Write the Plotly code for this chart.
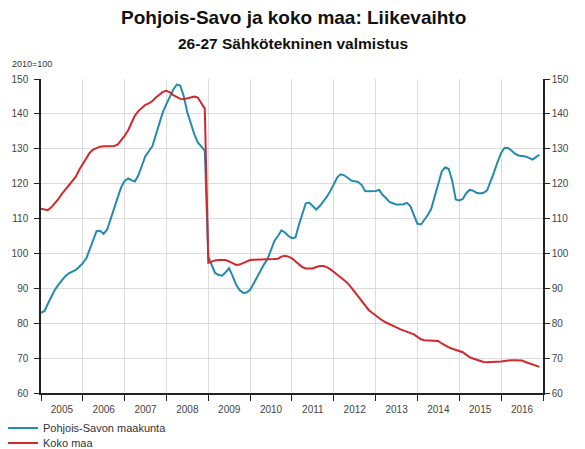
import plotly.graph_objects as go
import pandas as pd

months = pd.date_range("2005-01-01", "2016-12-01", freq="MS").strftime("%Y-%m-%d").tolist()

pohjois_savo = [
    83.0, 83.5, 85.5, 87.6, 89.5, 91.0, 92.4, 93.5, 94.3, 94.9, 95.3, 96.2,
    97.2, 98.6, 101.2, 104.0, 106.4, 106.5, 105.6, 106.8, 109.8, 112.8, 116.2, 118.9,
    120.8, 121.5, 121.0, 120.6, 122.4, 125.4, 127.9, 129.3, 130.8, 134.0, 137.5, 140.5,
    142.8, 145.1, 147.0, 148.4, 148.1, 145.0, 140.5, 137.3, 134.1, 131.8, 130.7, 129.5,
    99.0, 96.6, 94.4, 93.8, 93.6, 94.6, 95.8, 93.5, 91.0, 89.5, 88.7, 88.8,
    89.6, 91.4, 93.2, 95.2, 96.8, 98.3, 101.2, 103.6, 105.0, 106.6, 106.0, 105.0,
    104.4, 104.6, 108.0, 111.5, 114.3, 114.6, 113.5, 112.6, 113.6, 114.8, 116.2, 117.8,
    119.8, 121.8, 122.7, 122.4, 121.7, 120.9, 120.7, 120.5, 119.6, 117.9, 117.8, 117.8,
    117.9, 118.2, 116.8, 115.9, 114.8, 114.4, 114.0, 114.0, 114.1, 114.5, 113.5, 111.0,
    108.5, 108.3, 109.5, 111.0, 112.8, 116.5, 120.5, 123.5, 124.7, 124.2, 120.8, 115.5,
    115.2, 115.6, 117.2, 118.2, 118.0, 117.4, 117.2, 117.4, 118.1, 120.5, 123.3, 126.2,
    128.8, 130.3, 130.2, 129.5, 128.6, 128.1, 128.0, 127.8, 127.4, 126.9, 127.6, 128.3,
]

koko_maa = [
    112.8, 112.7, 112.4, 113.2, 114.3, 115.6, 117.0, 118.3, 119.6, 120.6, 122.0, 124.0,
    125.8, 127.3, 128.8, 129.8, 130.3, 130.6, 130.7, 130.7, 130.7, 130.8, 131.2, 132.3,
    133.7, 135.3, 137.2, 139.5, 140.8, 141.8, 142.6, 143.0, 143.7, 144.7, 145.6, 146.3,
    146.6, 146.2, 145.4, 144.8, 144.3, 144.2, 144.5, 144.8, 145.0, 144.7, 143.0, 141.5,
    97.3, 97.7, 98.0, 98.1, 98.2, 98.1, 97.7, 97.2, 96.7, 96.8, 97.3, 97.8,
    98.1, 98.2, 98.2, 98.2, 98.3, 98.3, 98.4, 98.4, 98.5, 99.1, 99.3, 99.1,
    98.6, 97.8, 96.9, 96.1, 95.7, 95.6, 95.7, 96.1, 96.4, 96.4, 96.1, 95.5,
    94.6, 93.9, 93.2, 92.3, 91.5, 90.3, 89.0, 87.5, 86.1, 84.8, 83.8, 83.0,
    82.2, 81.4, 80.8, 80.2, 79.8, 79.3, 78.8, 78.3, 77.9, 77.6, 77.3, 76.8,
    76.1, 75.4, 75.1, 75.1, 75.1, 75.1, 74.9, 74.2, 73.6, 73.1, 72.7, 72.4,
    72.1, 71.7, 71.0, 70.3, 69.9, 69.5, 69.1, 68.9, 68.8, 68.8, 68.8, 68.9,
    69.0, 69.2, 69.4, 69.4, 69.4, 69.4, 69.3, 68.9, 68.5, 68.1, 67.8, 67.5,
]

y_ticks = [60, 70, 80, 90, 100, 110, 120, 130, 140, 150]

BLUE = "#238bad"
RED = "#d1282c"
FONT = "Liberation Sans, Arial, sans-serif"

# page body has an 8px default margin; compensate so the plot lands where the reference has it
OFF = 8
W, H = 585, 449
ML, MT = 41 - OFF, 79 - OFF
plot_w, plot_h = 502, 314
MR = W - ML - plot_w
MB = H - MT - plot_h


def py(screen_y):
    return (H - MB - (screen_y - OFF)) / plot_h


def px(screen_x):
    return (screen_x - OFF - ML) / plot_w


fig = go.Figure()
fig.add_trace(go.Scatter(x=months, y=pohjois_savo, mode="lines", name="Pohjois-Savon maakunta",
                         line=dict(color=BLUE, width=2), legend="legend"))
fig.add_trace(go.Scatter(x=months, y=koko_maa, mode="lines", name="Koko maa",
                         line=dict(color=RED, width=2), legend="legend2"))
# invisible trace to draw the right-hand axis
fig.add_trace(go.Scatter(x=months, y=koko_maa, mode="lines", yaxis="y2", showlegend=False,
                         hoverinfo="skip", line=dict(color="rgba(0,0,0,0)", width=0)))

axis_font = dict(family=FONT, size=10, color="#444444")
legend_font = dict(family=FONT, size=11, color="#333333")

fig.update_layout(
    width=W, height=H,
    margin=dict(l=ML, r=MR, t=MT, b=MB, autoexpand=False),
    paper_bgcolor="white", plot_bgcolor="white",
    font=dict(family=FONT, size=10, color="#333333"),
    showlegend=True,
    legend=dict(x=px(3), y=py(428), xanchor="left", yanchor="middle",
                font=legend_font, itemwidth=30, bgcolor="rgba(0,0,0,0)"),
    legend2=dict(x=px(3), y=py(443), xanchor="left", yanchor="middle",
                 font=legend_font, itemwidth=30, bgcolor="rgba(0,0,0,0)"),
    xaxis=dict(type="date", range=["2005-01-01", "2017-01-01"],
               dtick="M12", tick0="2005-01-01", tickformat="%Y", ticklabelmode="period",
               showgrid=True, gridcolor="#dcdcdc", gridwidth=1,
               ticks="outside", ticklen=6, tickcolor="#222222", tickwidth=1,
               showline=True, linecolor="#222222", linewidth=1.5,
               tickfont=axis_font, zeroline=False, automargin=False),
    yaxis=dict(range=[60, 150], tickvals=y_ticks, showgrid=True, gridcolor="#dcdcdc", gridwidth=1,
               ticks="outside", ticklen=5, tickcolor="#222222", tickwidth=1,
               showline=True, linecolor="#222222", linewidth=1.5, ticklabelstandoff=4,
               tickfont=axis_font, zeroline=False, automargin=False),
    yaxis2=dict(range=[60, 150], tickvals=y_ticks, overlaying="y", side="right",
                showgrid=False, ticks="outside", ticklen=5, tickcolor="#222222", tickwidth=1,
                showline=True, linecolor="#222222", linewidth=1.5,
                tickfont=axis_font, zeroline=False, automargin=False),
)

fig.add_annotation(text="<b>Pohjois-Savo ja koko maa: Liikevaihto</b>", x=px(293), y=py(18),
                   xref="paper", yref="paper", showarrow=False, yanchor="middle",
                   font=dict(family=FONT, size=19, color="#111111"))
fig.add_annotation(text="<b>26-27 Sähkötekninen valmistus</b>", x=px(293), y=py(43),
                   xref="paper", yref="paper", showarrow=False, yanchor="middle",
                   font=dict(family=FONT, size=15.5, color="#111111"))
fig.add_annotation(text="2010=100", x=px(10), y=py(64),
                   xref="paper", yref="paper", showarrow=False, xanchor="left", yanchor="middle",
                   font=dict(family=FONT, size=9, color="#333333"))

fig.write_html("out.html")
